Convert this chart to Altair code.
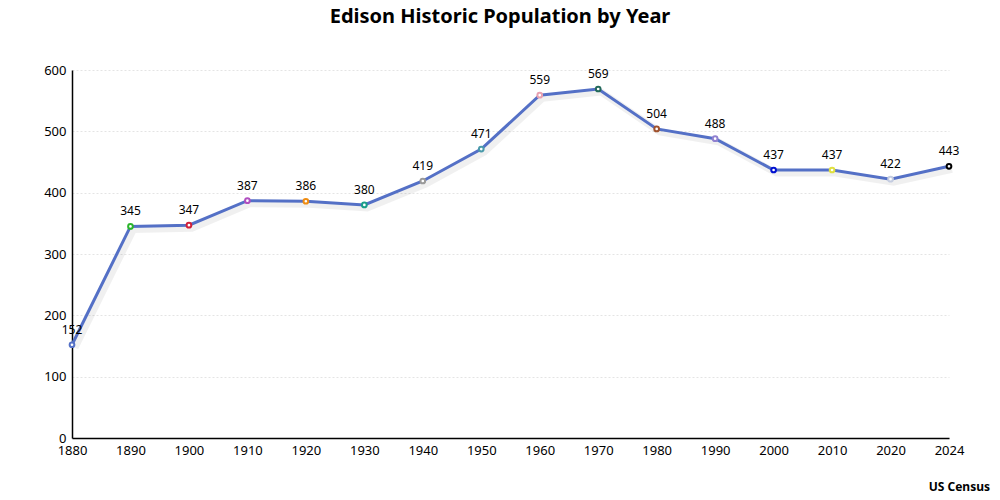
import altair as alt
import pandas as pd

years = ["1880", "1890", "1900", "1910", "1920", "1930", "1940", "1950",
         "1960", "1970", "1980", "1990", "2000", "2010", "2020", "2024"]
population = [152, 345, 347, 387, 386, 380, 419, 471,
              559, 569, 504, 488, 437, 437, 422, 443]
point_colors = ["#5470c6", "#2bb52b", "#d0203a", "#b04fc0", "#f08c10", "#1a9e8a",
                "#9a9a9a", "#4a9aaa", "#e8a0b0", "#23695a", "#a0522d", "#9080d0",
                "#0010d0", "#e0e040", "#c4cce0", "#000000"]
title_text = "Edison Historic Population by Year"
credit_text = "US Census"

df = pd.DataFrame({"year": years, "pop": population, "color": point_colors})

W, H = 877, 368
FONT = "Noto Sans"

x = alt.X("year:O", sort=years, title=None,
          scale=alt.Scale(type="point", padding=0),
          axis=alt.Axis(labelAngle=0, ticks=False, domainColor="#000000",
                        domainWidth=1.5, labelFontSize=13, labelColor="#000000",
                        labelPadding=6, labelFont=FONT))
y = alt.Y("pop:Q", title=None,
          scale=alt.Scale(domain=[0, 600], nice=False),
          axis=alt.Axis(values=[0, 100, 200, 300, 400, 500, 600], ticks=False,
                        domainColor="#000000", domainWidth=1.5,
                        gridColor="#e4e4e4", gridDash=[2, 2],
                        labelFontSize=13, labelColor="#000000",
                        labelPadding=6, labelFont=FONT))

base = alt.Chart(df)

shadow = base.mark_line(color="#000000", opacity=0.06, strokeWidth=7,
                        xOffset=3, yOffset=3).encode(x=x, y=y)
line = base.mark_line(color="#5470c6", strokeWidth=3).encode(x=x, y=y)
points = base.mark_point(filled=False, fill="#ffffff", fillOpacity=1,
                         strokeWidth=2, size=22, shape="circle", opacity=1).encode(
    x=x, y=y, stroke=alt.Stroke("color:N", scale=None))
labels = base.mark_text(baseline="bottom", dy=-8, fontSize=12, font=FONT,
                        color="#000000").encode(x=x, y=y, text="pop:Q")

title = alt.Chart(pd.DataFrame({"t": [title_text]})).mark_text(
    fontSize=20, fontWeight="bold", font=FONT, color="#000000",
    align="center", baseline="middle").encode(
    x=alt.value(428), y=alt.value(-53), text="t:N")
credit = alt.Chart(pd.DataFrame({"t": [credit_text]})).mark_text(
    fontSize=12, fontWeight="bold", font=FONT, color="#000000",
    align="right", baseline="middle").encode(
    x=alt.value(918), y=alt.value(417), text="t:N")

chart = alt.layer(shadow, line, points, labels, title, credit).properties(
    width=W, height=H,
    autosize=alt.AutoSizeParams(type="none"),
    padding={"left": 64, "top": 62, "right": 43, "bottom": 54},
    background="#ffffff",
).configure_view(stroke=None)

chart.save("out.html", embed_options={"renderer": "svg", "actions": False})
